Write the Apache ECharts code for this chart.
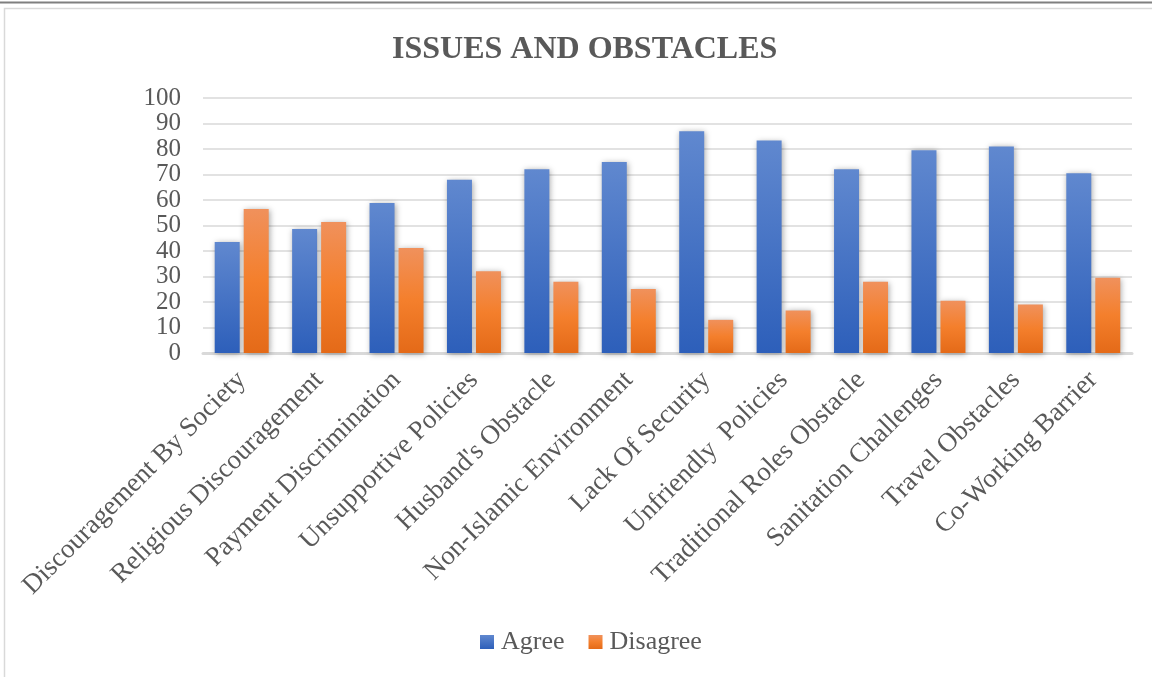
<!DOCTYPE html>
<html><head><meta charset="utf-8">
<script src="https://cdn.jsdelivr.net/npm/echarts@6/dist/echarts.min.js"></script>
<style>html,body{margin:0;padding:0;background:#fff}#c{width:1152px;height:677px}</style>
</head><body><div id="c"></div>
<script>
const categories = ["Discouragement By Society","Religious Discouragement","Payment Discrimination","Unsupportive Policies","Husband's Obstacle","Non-Islamic Environment","Lack Of Security","Unfriendly  Policies","Traditional Roles Obstacle","Sanitation Challenges","Travel Obstacles","Co-Working Barrier"];
const agree = [43.5,48.6,58.8,67.9,72.1,74.9,87,83.3,72.1,79.5,81,70.5];
const disagree = [56.5,51.4,41.2,32.1,27.9,25.1,13,16.7,27.9,20.5,19,29.5];
const yTicks = [0,10,20,30,40,50,60,70,80,90,100];

const font = "'Liberation Serif','Times New Roman',serif";
const blue = new echarts.graphic.LinearGradient(0,0,0,1,[{offset:0,color:'#6088cf'},{offset:1,color:'#2d5fba'}]);
const orange = new echarts.graphic.LinearGradient(0,0,0,1,[{offset:0,color:'#f0915c'},{offset:0.5,color:'#f47f2c'},{offset:1,color:'#e46a18'}]);
const chart = echarts.init(document.getElementById('c'));
chart.setOption({
  backgroundColor:'#fff',
  animation:false,
  graphic:[
    {type:'line',shape:{x1:0,y1:2.5,x2:1152,y2:2.5},style:{stroke:'#7f7f7f',lineWidth:2}},
    {type:'rect',shape:{x:4.5,y:8.5,width:1160,height:700},style:{fill:'none',stroke:'#d9d9d9',lineWidth:1.5}}
  ],
  title:{text:'ISSUES AND OBSTACLES',left:392,top:34,padding:0,textStyle:{fontFamily:font,fontSize:32,fontWeight:'bold',color:'#595959'}},
  legend:{bottom:17,left:475,itemWidth:14,itemHeight:14,itemGap:24,icon:'rect',
    textStyle:{fontFamily:font,fontSize:26,color:'#595959',padding:[0,0,0,2]},data:['Agree','Disagree']},
  grid:{left:203,right:20,top:98,bottom:324,containLabel:false},
  xAxis:{type:'category',data:categories,
    axisLine:{lineStyle:{color:'#d9d9d9',width:3}},axisTick:{show:false},
    axisLabel:{rotate:45,interval:0,fontFamily:font,fontSize:27,color:'#595959',margin:23}},
  yAxis:{type:'value',min:0,max:100,interval:10,
    axisLine:{show:false},axisTick:{show:false},
    splitLine:{lineStyle:{color:'#d9d9d9',width:1.5}},
    axisLabel:{fontFamily:font,fontSize:25,color:'#595959',margin:22,
      formatter:v=>yTicks.includes(v)?String(v):''}},
  series:[
    {name:'Agree',type:'bar',data:agree,barWidth:25,barGap:'16%',
      itemStyle:{color:blue,shadowColor:'rgba(0,0,0,0.35)',shadowBlur:6,shadowOffsetX:1,shadowOffsetY:1}},
    {name:'Disagree',type:'bar',data:disagree,barWidth:25,
      itemStyle:{color:orange,shadowColor:'rgba(0,0,0,0.35)',shadowBlur:6,shadowOffsetX:1,shadowOffsetY:1}}
  ]
});
</script></body></html>
